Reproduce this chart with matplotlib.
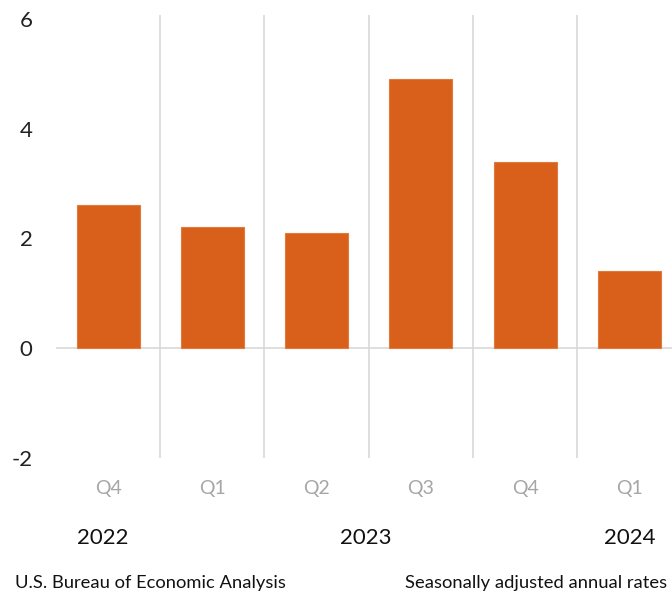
import matplotlib.pyplot as plt

quarters = ["Q4", "Q1", "Q2", "Q3", "Q4", "Q1"]
values = [2.6, 2.2, 2.1, 4.9, 3.4, 1.4]
years = ["2022", "2023", "2024"]
year_pos = [-0.05, 2.47, 5.0]

bar_color = "#D9601A"
grid_color = "#d9d9d9"

plt.rcParams["font.family"] = ["Lato", "DejaVu Sans"]

fig = plt.figure(figsize=(6.72, 5.95), dpi=100)
W, H = 672, 595
ax = fig.add_axes([56 / W, 137 / H, (681.5 - 56) / W, (580 - 137) / H])

x = range(len(values))
ax.bar(x, values, width=0.605, color=bar_color, edgecolor="#E07A3E", linewidth=0.8, zorder=3)

ax.axhline(0, color=grid_color, linewidth=1.2, zorder=2)
for i in range(1, len(values)):
    ax.axvline(i - 0.5, color=grid_color, linewidth=1.2, zorder=1)

ax.set_xlim(-0.5, len(values) - 0.5)
ax.set_ylim(-2, 6.07)
ax.set_yticks([-2, 0, 2, 4, 6])
ax.set_yticklabels(["-2", "0", "2", "4", "6"])
ax.tick_params(axis="y", length=0, pad=17, labelsize=16, labelcolor="#222222")

ax.set_xticks(list(x))
ax.set_xticklabels(quarters)
ax.tick_params(axis="x", length=0, pad=16, labelsize=14, labelcolor="#a6a6a6")

for s in ax.spines.values():
    s.set_visible(False)

for yr, p in zip(years, year_pos):
    ax.text(p, -3.45, yr, ha="center", va="center", fontsize=16, color="#111111")

fig.text(15 / W, 1 - 583 / H, "U.S. Bureau of Economic Analysis", ha="left", va="center",
         fontsize=13.2, color="#111111")
fig.text(667 / W, 1 - 583 / H, "Seasonally adjusted annual rates", ha="right", va="center",
         fontsize=13.2, color="#111111")

fig.savefig("out.png", dpi=100)
